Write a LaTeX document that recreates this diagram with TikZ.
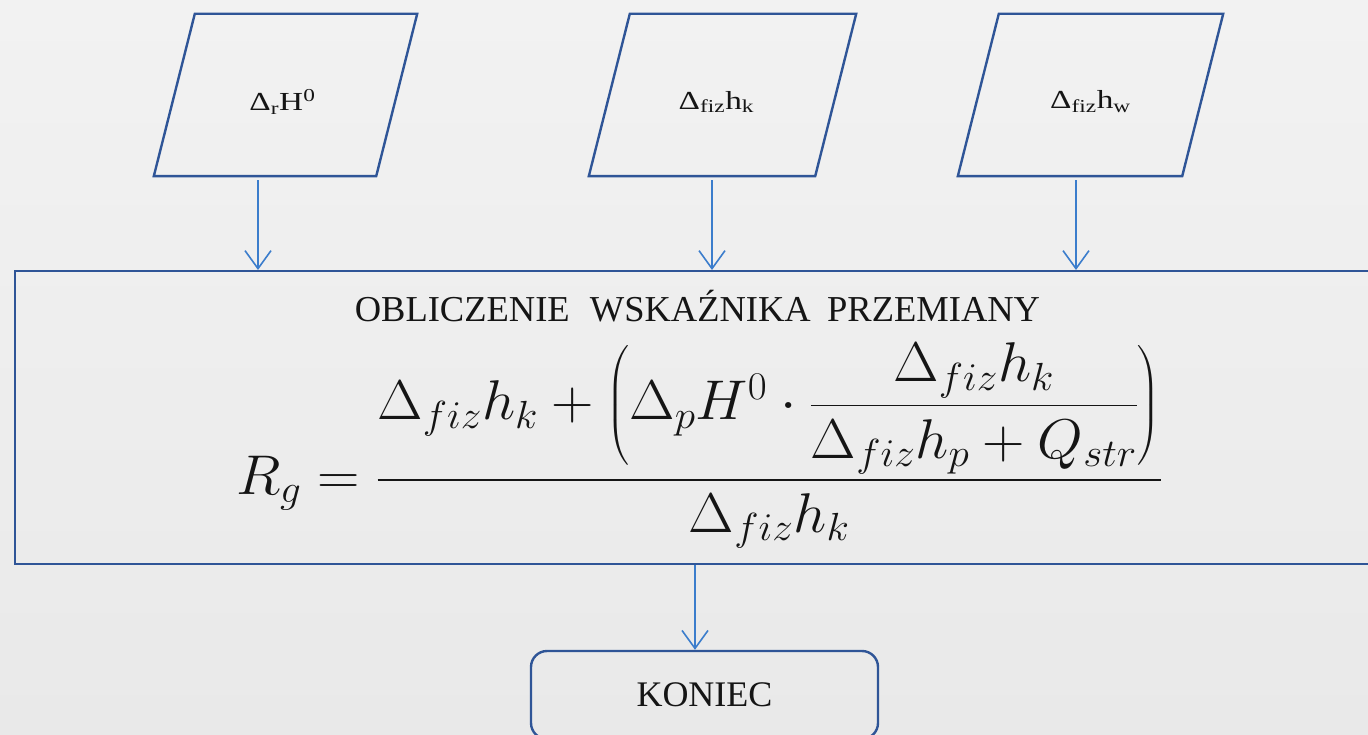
\RequirePackage{fix-cm}
\documentclass[tikz,border=0pt]{standalone}
\usepackage{amsmath}
\usepackage{graphicx}
\usepackage{fontspec}
\setmainfont{Liberation Serif}
\usetikzlibrary{arrows.meta,calc}

\definecolor{boxblue}{HTML}{2F5597}
\definecolor{arrowblue}{HTML}{3B7DCC}
\definecolor{bgtop}{HTML}{F2F2F2}
\definecolor{bgbot}{HTML}{E9E9E9}
\definecolor{ink}{HTML}{151515}

% fraction with a slightly heavier bar
\newcommand{\hfrac}[2]{\genfrac{}{}{1.7pt}{0}{#1}{#2}}

\begin{document}
\begin{tikzpicture}[x=1pt,y=-1pt,
  frame/.style={draw=boxblue,line width=2.4pt},
  datashape/.style={inner sep=0pt,minimum height=162pt},
  datatxt/.style={inner sep=0pt,text=ink,font=\fontsize{26}{30}\selectfont},
  flow/.style={draw=arrowblue,line width=1.6pt,
    -{Straight Barb[length=18pt,width=26pt,line width=1.6pt]}},
]
% page background
\shade[top color=bgtop,bottom color=bgbot] (0,0) rectangle (1368,735);
\useasboundingbox (0,0) rectangle (1368,735);

% input data (parallelograms)
\node[datashape,minimum width=263pt] (p1) at (285.5,95) {};
\node[datashape,minimum width=267pt] (p2) at (722.5,95) {};
\node[datashape,minimum width=265pt] (p3) at (1090.5,95) {};
\foreach \p in {p1,p2,p3}{
  \draw[frame] ($(\p.north west)+(41,0)$) -- (\p.north east)
    -- ($(\p.south east)-(41,0)$) -- (\p.south west) -- cycle;
}
\node[datatxt] (t1) at ($(p1.center)+(-3,7)$)
  {\scalebox{1.28}[1]{Δ\textsubscript{r}H\textsuperscript{0}}};
\node[datatxt] (t2) at ($(p2.center)+(-6,7)$)
  {\scalebox{1.28}[1]{Δ\textsubscript{fiz}h\textsubscript{k}}};
\node[datatxt] (t3) at ($(p3.center)+(0,7)$)
  {\scalebox{1.28}[1]{Δ\textsubscript{fiz}h\textsubscript{w}}};

% calculation block
\node[frame,inner sep=0pt,anchor=north west,minimum width=1390pt,minimum height=293pt]
  (calc) at (14,270) {};
\node[text=ink,font=\fontsize{36.5}{42}\selectfont] (title) at (697.5,306)
  {OBLICZENIE\hspace{0.55em}WSKAŹNIKA\hspace{0.45em}PRZEMIANY};
\node[text=ink,font=\fontsize{56}{66}\selectfont,inner sep=0pt,anchor=base west] (eq)
  at (236,494)
  {\scalebox{1.05}[1]{\delimiterfactor=800 \delimitershortfall=40pt
   $\displaystyle R_g=\hfrac{\Delta_{fiz}h_k+\left(\Delta_p H^0\cdot
     \hfrac{\Delta_{fiz}h_k}{\Delta_{fiz}h_p+Q_{str}}\right)}{\Delta_{fiz}h_k}$}};

% end block
\node[frame,rounded corners=16pt,minimum width=347pt,minimum height=88pt,
  text=ink,font=\fontsize{36}{40}\selectfont] (end) at (704.5,695) {KONIEC};

% connectors
\coordinate (a1) at ([xshift=-27.5pt,yshift=-4pt]p1.south);
\coordinate (a2) at ([xshift=-10.5pt,yshift=-4pt]p2.south);
\coordinate (a3) at ([xshift=-14.5pt,yshift=-4pt]p3.south);
\draw[flow] (a1) -- (a1 |- calc.north);
\draw[flow] (a2) -- (a2 |- calc.north);
\draw[flow] (a3) -- (a3 |- calc.north);
\coordinate (a4) at ([xshift=-9.5pt]end.north);
\draw[flow] (a4 |- calc.south) -- (a4);
\end{tikzpicture}
\end{document}
